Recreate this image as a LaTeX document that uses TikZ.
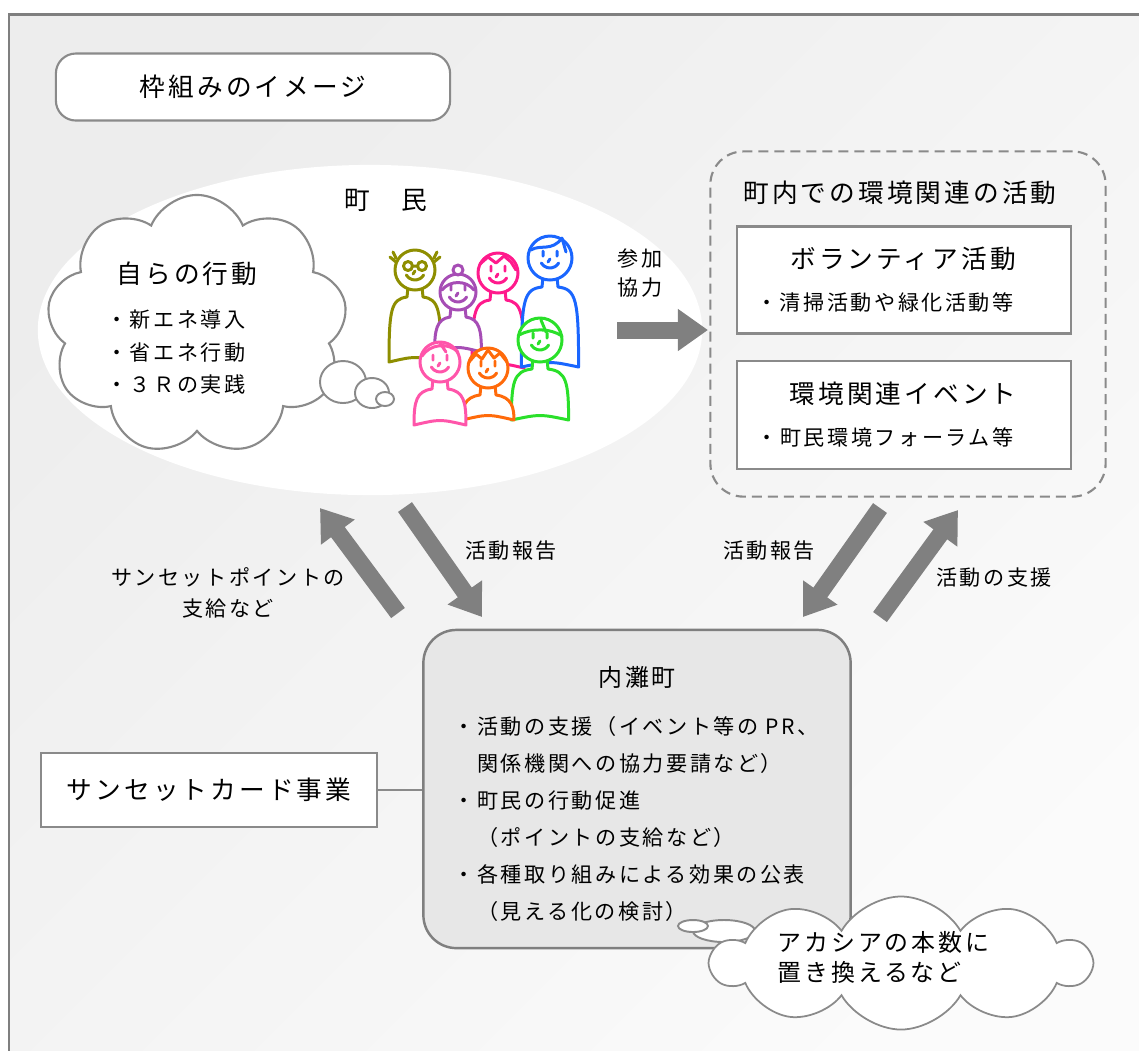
\documentclass[tikz,border=0pt]{standalone}
\usepackage{fontspec}
\newfontfamily\jpfont[LetterSpace=12]{Noto Sans CJK JP}
\usetikzlibrary{arrows.meta,shapes.geometric,shapes.symbols}

\definecolor{framegray}{HTML}{7F7F7F}
\definecolor{linegray}{HTML}{8A8A8A}
\definecolor{arrowgray}{HTML}{808080}
\definecolor{bgdark}{HTML}{EDEDED}
\definecolor{bglight}{HTML}{FBFBFB}
\definecolor{townfill}{HTML}{E7E7E7}
\definecolor{olivep}{HTML}{8E8E00}
\definecolor{purplep}{HTML}{A64DB5}
\definecolor{magentap}{HTML}{FF1A8C}
\definecolor{bluep}{HTML}{1A66FF}
\definecolor{pinkp}{HTML}{FF55AA}
\definecolor{orangep}{HTML}{FF6A0A}
\definecolor{greenp}{HTML}{2AE02A}

% one resident: x, y, head radius, body drop, colour
\newcommand{\townsperson}[5]{%
  \filldraw[#5,fill=white,line width=0.85pt,line join=round]
    (#1-7,#2+#3-3) -- (#1-8,#2+#3+7)
    .. controls (#1-1.2*#3,#2+#3+9) and (#1-1.3*#3,#2+#3+20) .. (#1-1.3*#3,#2+#4)
    .. controls (#1,#2+#4-6) .. (#1+1.3*#3,#2+#4)
    .. controls (#1+1.3*#3,#2+#3+20) and (#1+1.2*#3,#2+#3+9) .. (#1+8,#2+#3+7)
    -- (#1+7,#2+#3-3);
  \filldraw[#5,fill=white,line width=0.85pt] (#1,#2) circle[radius=#3*0.01cm];
  \draw[#5,line width=0.85pt,line cap=round]
    (#1-7,#2-7) -- ++(0,5) (#1+7,#2-7) -- ++(0,5)
    (#1,#2+1) -- ++(-2,3)
    (#1,#2) ++(-0.087cm,-0.05cm) arc[start angle=210,end angle=330,radius=0.1cm];
}

\begin{document}
\begin{tikzpicture}[x=0.01cm,y=-0.01cm,
  jbig/.style={font=\jpfont\fontsize{7.3}{9}\selectfont,inner sep=0pt},
  jmid/.style={font=\jpfont\fontsize{6.8}{#1}\selectfont,inner sep=0pt},
  jmid/.default=8.5,
  jsmall/.style={font=\jpfont\fontsize{6}{#1}\selectfont,inner sep=0pt},
  jsmall/.default=9,
  whitebox/.style={draw=linegray,line width=0.6pt,fill=white,inner sep=0pt},
  bubble/.style={draw=linegray,line width=0.55pt,fill=white},
  bigarrow/.style={draw=arrowgray,line width=0.17cm,-{Triangle[length=0.3cm,width=0.4cm]}}]
\useasboundingbox (0,0) rectangle (1139,1050);
\fill[white] (0,0) rectangle (1139,1050);

%frame
\draw[framegray,line width=0.85pt,left color=bgdark,right color=bglight,shading angle=45]
  (9,14) rectangle (1170,1080);
\node[whitebox,jbig,rounded corners=0.2cm,minimum width=3.94cm,minimum height=0.67cm]
  (frameTitle) at (253,87) {枠組みのイメージ};

%residents
\node[ellipse,fill=white,minimum width=6.64cm,minimum height=3.3cm] (residents) at (370,330) {};
\node[jbig] (residentsLabel) at (386,200) {町　民};

\node[cloud,draw=linegray,line width=0.6pt,fill=white,cloud puffs=9,cloud puff arc=135,
  cloud ignores aspect,minimum width=3cm,minimum height=2.6cm] (ownCloud) at (197,325) {};
\draw[bubble] (343,382) ellipse[x radius=0.23cm,y radius=0.21cm];
\draw[bubble] (372,393) ellipse[x radius=0.17cm,y radius=0.15cm];
\draw[bubble] (385,399) ellipse[x radius=0.09cm,y radius=0.07cm];
\node[jbig] (ownTitle) at (187,274) {自らの行動};
\node[jsmall=9.25,align=left] (ownItems) at (176,352) {・新エネ導入\\・省エネ行動\\・３Ｒの実践};

\foreach \hx/\hy/\hr/\hb/\hc in {498/273/20/95/magentap, 550/258/22/109/bluep,
    415/270/20/92/olivep, 458/292/18/60/purplep, 540/340/22/80/greenp,
    488/368/20/52/orangep, 440/362/20/63/pinkp}
  {\townsperson{\hx}{\hy}{\hr}{\hb}{\hc}}

% hair, glasses and hats
\begin{scope}[line width=0.85pt,line cap=round,line join=round]
\draw[olivep,fill=white] (408,266) circle[radius=0.045cm] (422,266) circle[radius=0.045cm];
\draw[olivep] (412,266) -- (418,266) (396,262) -- (390,257) (396,258) -- (393,252)
  (434,262) -- (440,257) (434,258) -- (437,252);
\draw[purplep,fill=white] (458,270) circle[radius=0.05cm];
\draw[purplep] (442,290) .. controls (450,280) and (466,280) .. (474,290);
\draw[magentap] (480,264) -- (488,257) -- (496,263) -- (504,256) -- (511,262) -- (516,270);
\draw[bluep] (531,250) .. controls (540,244) and (552,252) .. (562,238) (562,238) -- (566,252);
\draw[greenp] (519,335) .. controls (532,328) and (550,328) .. (562,336) (541,320) -- (546,332);
\draw[orangep] (469,362) -- (476,354) -- (482,359) -- (488,350) -- (494,358) -- (500,353) -- (507,362);
\draw[pinkp] (422,356) .. controls (430,344) and (448,342) .. (458,352) (440,343) -- (446,352);
\end{scope}

%joining in
\node[jsmall=8.5,align=center] (joinLabel) at (640,273) {参加\\協力};
\coordinate (joinTail) at (617,330);
\coordinate (joinTip) at (708,330);
\draw[bigarrow] (joinTail) -- (joinTip);

%activities in town
\node[draw=linegray,line width=0.6pt,dash pattern=on 0.1cm off 0.06cm,rounded corners=0.33cm,
  minimum width=3.95cm,minimum height=3.45cm] (activities) at (908,324) {};
\node[jbig] (activitiesTitle) at (900,193) {町内での環境関連の活動};
\node[whitebox,minimum width=3.34cm,minimum height=1.07cm] (volunteer) at (904,280) {};
\node[jbig] at (903,259) {ボランティア活動};
\node[jsmall] at (885,302) {・清掃活動や緑化活動等};
\node[whitebox,minimum width=3.34cm,minimum height=1.08cm] (events) at (904,415) {};
\node[jbig] at (903,394) {環境関連イベント};
\node[jsmall] at (885,437) {・町民環境フォーラム等};

%report and support arrows
\coordinate (pointTail) at (398,613);  \coordinate (pointTip) at (320,508);
\coordinate (reportTail) at (405,507); \coordinate (reportTip) at (482,617);
\coordinate (actReportTail) at (880,508); \coordinate (actReportTip) at (803,617);
\coordinate (supportTail) at (880,617); \coordinate (supportTip) at (958,510);
\draw[bigarrow] (pointTail) -- (pointTip);
\draw[bigarrow] (reportTail) -- (reportTip);
\draw[bigarrow] (actReportTail) -- (actReportTip);
\draw[bigarrow] (supportTail) -- (supportTip);
\node[jsmall=8.8,align=center] (pointLabel) at (228,593) {サンセットポイントの\\支給など};
\node[jsmall] (reportLabel) at (511,551) {活動報告};
\node[jsmall] (actReportLabel) at (769,551) {活動報告};
\node[jsmall] (supportLabel) at (994,578) {活動の支援};

%town
\node[draw=framegray,line width=0.7pt,fill=townfill,rounded corners=0.33cm,
  minimum width=4.27cm,minimum height=3.18cm] (town) at (637,789) {};
\node[jmid] (townTitle) at (637,677) {内灘町};
\node[jsmall=10.5,align=left,anchor=north west] (townItems) at (453,716)
  {・活動の支援（イベント等の PR、\\　関係機関への協力要請など）\\・町民の行動促進\\
   　（ポイントの支給など）\\・各種取り組みによる効果の公表\\　（見える化の検討）};

\node[whitebox,jbig,minimum width=3.36cm,minimum height=0.74cm] (card) at (209,790) {サンセットカード事業};
\draw[linegray,line width=0.6pt] (card.east) -- (card.east -| town.west);

\draw[bubble] (724,931) ellipse[x radius=0.31cm,y radius=0.11cm];
\draw[bubble] (693,926) ellipse[x radius=0.15cm,y radius=0.06cm];
\node[cloud,draw=linegray,line width=0.5pt,fill=white,cloud puffs=10,cloud puff arc=120,
  cloud ignores aspect,minimum width=3.78cm,minimum height=1.33cm] (acaciaCloud) at (901,963) {};
\node[jmid=8.5,align=left,anchor=west] (acaciaText) at (777,957) {アカシアの本数に\\置き換えるなど};
\end{tikzpicture}
\end{document}
